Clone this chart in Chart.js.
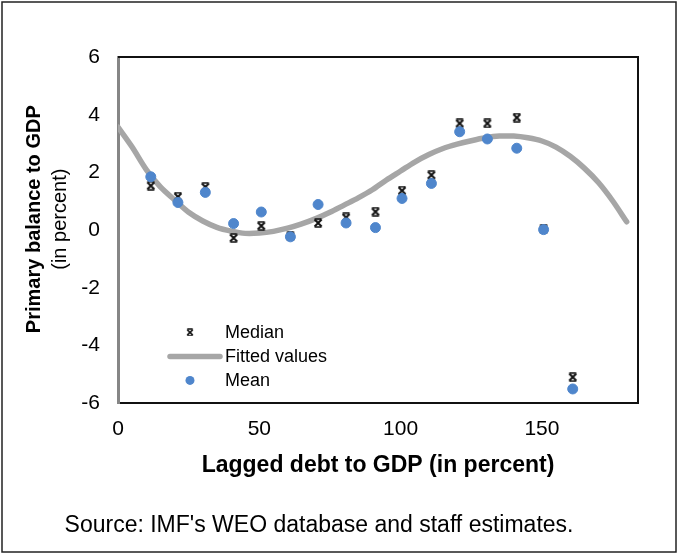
<!DOCTYPE html>
<html>
<head>
<meta charset="utf-8">
<script src="https://cdn.jsdelivr.net/npm/chart.js@4.4.1/dist/chart.umd.min.js"></script>
<style>
  html, body { margin: 0; padding: 0; background: #fff; }
</style>
</head>
<body>
<canvas id="myChart" width="678" height="554"></canvas>
<script>
const ctx = document.getElementById('myChart').getContext('2d');

// Binned observations (x = lagged debt to GDP, y = primary balance to GDP)
const binDebt = [11.6, 21.2, 30.9, 40.9, 50.7, 61.0, 70.8, 80.7, 91.1, 100.5, 110.9, 120.9, 130.7, 141.1, 150.6, 160.9];
const medianBalance = [1.54, 1.16, 1.50, -0.27, 0.15, -0.20, 0.25, 0.44, 0.64, 1.37, 1.91, 3.70, 3.70, 3.90, 0.05, -5.09];
const meanBalance = [1.85, 0.96, 1.31, 0.23, 0.63, -0.23, 0.89, 0.25, 0.09, 1.10, 1.62, 3.41, 3.16, 2.84, 0.02, -5.50];

// Fitted curve
const fittedDebt = [0, 5, 10, 15, 20, 25, 30, 35, 40, 45, 50, 55, 60, 65, 70, 75, 80, 85, 90,
    95, 100, 105, 110, 115, 120, 125, 130, 135, 140, 145, 150, 155, 160, 165, 170, 175, 180];
const fittedBalance = [3.57, 2.88, 2.10, 1.50, 1.05, 0.62, 0.32, 0.10, -0.03, -0.11, -0.10, -0.04, 0.07,
    0.22, 0.40, 0.62, 0.87, 1.12, 1.40, 1.74, 2.05, 2.36, 2.62, 2.83, 2.98, 3.10, 3.20, 3.26, 3.26,
    3.20, 3.09, 2.88, 2.56, 2.15, 1.65, 1.02, 0.29];

const xTicks = [0, 50, 100, 150];
const yTicks = [-6, -4, -2, 0, 2, 4, 6];

const FONT = "'Liberation Sans', Arial, sans-serif";
const BLUE = '#4F86CC';
const GREY = '#A6A6A6';

// Excel-like "star" marker used for the median
function makeStar(size, color) {
    const c = document.createElement('canvas');
    c.width = c.height = size;
    const g = c.getContext('2d');
    const a = 1.5, b = size - 1.5;
    g.strokeStyle = color;
    g.lineWidth = 2;
    g.beginPath();
    g.moveTo(a, a); g.lineTo(b, b);
    g.moveTo(b, a); g.lineTo(a, b);
    g.stroke();
    g.lineWidth = 1.3;
    g.beginPath();
    g.moveTo(a, a - 0.5); g.lineTo(b, a - 0.5);
    g.moveTo(a, b + 0.5); g.lineTo(b, b + 0.5);
    g.stroke();
    return c;
}
const starMarker = makeStar(10, '#111');

function toPoints(xs, ys) {
    return xs.map((x, i) => ({ x: x, y: ys[i] }));
}

// Outer frame + plot frame (top/right edges)
const framePlugin = {
    id: 'frame',
    afterDraw(chart) {
        const { ctx, chartArea: ca } = chart;
        ctx.save();
        ctx.strokeStyle = '#222';
        ctx.lineWidth = 1.5;
        ctx.strokeRect(2, 2, chart.width - 4, chart.height - 4);
        ctx.strokeStyle = '#111';
        ctx.lineWidth = 2;
        ctx.beginPath();
        ctx.moveTo(ca.left, ca.top);
        ctx.lineTo(ca.right, ca.top);
        ctx.lineTo(ca.right, ca.bottom);
        ctx.stroke();
        ctx.restore();
    }
};

// Two-line y-axis title (bold + regular)
const yTitlePlugin = {
    id: 'yTitle',
    afterDraw(chart) {
        const { ctx, chartArea: ca } = chart;
        const cy = (ca.top + ca.bottom) / 2 - 11;
        ctx.save();
        ctx.fillStyle = '#000';
        ctx.textAlign = 'center';
        ctx.textBaseline = 'middle';
        ctx.translate(34, cy);
        ctx.rotate(-Math.PI / 2);
        ctx.font = 'bold 20px ' + FONT;
        ctx.fillText('Primary balance to GDP', 0, 0);
        ctx.font = '20px ' + FONT;
        ctx.fillText('(in percent)', 0, 26);
        ctx.restore();
    }
};

// Legend in the lower-left corner of the plot
const legendPlugin = {
    id: 'cornerLegend',
    afterDraw(chart) {
        const { ctx, chartArea: ca } = chart;
        const markX = ca.left + 72;
        const textX = ca.left + 107;
        let y = ca.bottom - 71;
        ctx.save();
        ctx.font = '18px ' + FONT;
        ctx.textBaseline = 'middle';
        chart.data.datasets.forEach((ds) => {
            if (ds.showLine) {
                ctx.strokeStyle = ds.borderColor;
                ctx.lineWidth = ds.borderWidth;
                ctx.lineCap = 'round';
                ctx.beginPath();
                ctx.moveTo(markX - 20, y);
                ctx.lineTo(markX + 30, y);
                ctx.stroke();
            } else if (ds.pointStyle === 'circle') {
                ctx.fillStyle = ds.backgroundColor;
                ctx.beginPath();
                ctx.arc(markX, y, 4.5, 0, Math.PI * 2);
                ctx.fill();
            } else {
                ctx.drawImage(ds.pointStyle, markX - 4, y - 4, 8, 8);
            }
            ctx.fillStyle = '#000';
            ctx.fillText(ds.label, textX, y + 1);
            y += 24;
        });
        ctx.restore();
    }
};

const myChart = new Chart(ctx, {
    type: 'scatter',
    data: {
        datasets: [{
            label: 'Median',
            data: toPoints(binDebt, medianBalance),
            pointStyle: starMarker,
            pointRadius: 5,
            order: 1
        }, {
            label: 'Fitted values',
            data: toPoints(fittedDebt, fittedBalance),
            showLine: true,
            borderColor: GREY,
            borderWidth: 5.5,
            borderCapStyle: 'round',
            borderJoinStyle: 'round',
            tension: 0.3,
            pointRadius: 0,
            order: 2
        }, {
            label: 'Mean',
            data: toPoints(binDebt, meanBalance),
            pointStyle: 'circle',
            pointRadius: 5,
            backgroundColor: BLUE,
            borderColor: BLUE,
            borderWidth: 1,
            order: 0
        }]
    },
    options: {
        responsive: false,
        animation: false,
        layout: {
            padding: { left: 0, top: 57, right: 40, bottom: 0 }
        },
        scales: {
            x: {
                type: 'linear',
                min: 0,
                max: 184,
                afterBuildTicks: (scale) => { scale.ticks = xTicks.map(v => ({ value: v })); },
                afterFit: (scale) => { scale.height = 100; },
                grid: { display: false, drawTicks: false },
                border: { color: '#111', width: 2 },
                ticks: {
                    padding: 13,
                    color: '#000',
                    font: { family: FONT, size: 21 },
                    maxRotation: 0
                },
                title: {
                    display: true,
                    text: 'Lagged debt to GDP (in percent)',
                    color: '#000',
                    font: { family: FONT, size: 23, weight: 'bold' },
                    padding: { top: 0, bottom: 24 }
                }
            },
            y: {
                type: 'linear',
                min: -6,
                max: 6,
                afterBuildTicks: (scale) => { scale.ticks = yTicks.map(v => ({ value: v })); },
                afterFit: (scale) => { scale.width = 118; },
                grid: { display: false, drawTicks: false },
                border: { color: '#868686', width: 3 },
                ticks: {
                    padding: 18,
                    color: '#000',
                    font: { family: FONT, size: 21 }
                }
            }
        },
        plugins: {
            legend: { display: false },
            tooltip: { enabled: false },
            title: {
                display: true,
                position: 'bottom',
                text: "Source: IMF's WEO database and staff estimates.",
                color: '#000',
                font: { family: FONT, size: 23, weight: 'normal' },
                padding: { top: 8, bottom: 15 }
            }
        }
    },
    plugins: [framePlugin, yTitlePlugin, legendPlugin]
});
</script>
</body>
</html>
